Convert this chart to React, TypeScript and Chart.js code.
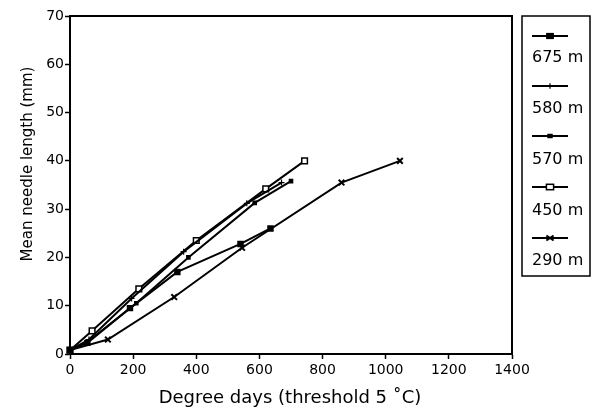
import React, { useEffect, useRef } from "react";
import { Chart, registerables } from "chart.js";

Chart.register(...registerables);

const seriesNames = ["675 m", "580 m", "570 m", "450 m", "290 m"];

const x675 = [0, 55, 190, 340, 540, 635];
const y675 = [0.8, 2.3, 9.5, 17.0, 22.8, 26.0];

const x580 = [0, 60, 195, 360, 560, 670];
const y580 = [0.8, 3.0, 11.5, 21.2, 31.2, 35.5];

const x570 = [0, 55, 210, 375, 585, 700];
const y570 = [0.8, 2.5, 10.5, 20.0, 31.3, 35.8];

const x450 = [0, 70, 218, 400, 620, 743];
const y450 = [0.8, 4.8, 13.5, 23.5, 34.2, 40.0];

const x290 = [0, 120, 330, 545, 860, 1045];
const y290 = [0.8, 3.0, 11.8, 22.0, 35.5, 40.0];

const xTicks = [0, 200, 400, 600, 800, 1000, 1200, 1400];
const yTicks = [0, 10, 20, 30, 40, 50, 60, 70];

const xTitle = "Degree days (threshold 5 \u02DAC)";
const yTitle = "Mean needle length (mm)";

const FONT = '"DejaVu Sans", Verdana, sans-serif';

type Marker = { style: string; radius: number; fill: string; width: number };
const markers: Marker[] = [
  { style: "rect", radius: 3.5, fill: "#000", width: 1.5 },
  { style: "cross", radius: 3, fill: "#000", width: 1.2 },
  { style: "rect", radius: 2.2, fill: "#000", width: 1.5 },
  { style: "rect", radius: 4, fill: "#fff", width: 1.5 },
  { style: "crossRot", radius: 4, fill: "#000", width: 2 },
];

function pts(xs: number[], ys: number[]) {
  return xs.map((x, i) => ({ x, y: ys[i] }));
}

function drawMarker(ctx: CanvasRenderingContext2D, m: Marker, x: number, y: number, k: number) {
  ctx.save();
  ctx.strokeStyle = "#000";
  ctx.fillStyle = m.fill;
  ctx.lineWidth = m.width;
  const r = m.radius * k;
  if (m.style === "rect") {
    ctx.fillRect(x - r, y - r * 0.75, 2 * r, 1.5 * r);
    ctx.strokeRect(x - r, y - r * 0.75, 2 * r, 1.5 * r);
  } else if (m.style === "cross") {
    ctx.beginPath();
    ctx.moveTo(x - r, y);
    ctx.lineTo(x + r, y);
    ctx.moveTo(x, y - r);
    ctx.lineTo(x, y + r);
    ctx.stroke();
  } else {
    ctx.beginPath();
    ctx.moveTo(x - r, y - r * 0.7);
    ctx.lineTo(x + r, y + r * 0.7);
    ctx.moveTo(x + r, y - r * 0.7);
    ctx.lineTo(x - r, y + r * 0.7);
    ctx.stroke();
  }
  ctx.restore();
}

const framePlugin = {
  id: "frameAndLegend",
  afterDraw(chart: any) {
    const ctx: CanvasRenderingContext2D = chart.ctx;
    const a = chart.chartArea;
    ctx.save();
    ctx.strokeStyle = "#000";
    ctx.lineWidth = 2;
    ctx.strokeRect(a.left, a.top, a.right - a.left, a.bottom - a.top);

    // axis titles
    ctx.fillStyle = "#000";
    ctx.textAlign = "center";
    ctx.textBaseline = "middle";
    ctx.font = `18px ${FONT}`;
    ctx.fillText(xTitle, 290, 398);
    ctx.save();
    ctx.translate(28, 164);
    ctx.rotate(-Math.PI / 2);
    ctx.font = `15px ${FONT}`;
    ctx.fillText(yTitle, 0, 0);
    ctx.restore();

    // legend box
    ctx.lineWidth = 1.5;
    ctx.strokeRect(522, 16, 68, 260);
    const lineYs = [36, 86, 136, 187, 238];
    const textYs = [58, 109, 160, 211, 261];
    ctx.font = `16px ${FONT}`;
    ctx.textAlign = "left";
    seriesNames.forEach((name, i) => {
      ctx.lineWidth = 2;
      ctx.beginPath();
      ctx.moveTo(532, lineYs[i]);
      ctx.lineTo(568, lineYs[i]);
      ctx.stroke();
      drawMarker(ctx, markers[i], 550, lineYs[i], 0.9);
      ctx.fillStyle = "#000";
      ctx.fillText(name, 532, textYs[i]);
    });
    ctx.restore();
  },
};

export default function App() {
  const ref = useRef<HTMLCanvasElement | null>(null);
  useEffect(() => {
    if (!ref.current) return;
    const all = [
      pts(x675, y675),
      pts(x580, y580),
      pts(x570, y570),
      pts(x450, y450),
      pts(x290, y290),
    ];
    const chart = new Chart(ref.current, {
      type: "scatter",
      data: {
        datasets: all.map((d, i) => ({
          label: seriesNames[i],
          data: d,
          showLine: true,
          borderColor: "#000",
          borderWidth: 2,
          backgroundColor: markers[i].fill,
          pointStyle: markers[i].style as any,
          pointRadius: markers[i].radius,
          pointBorderWidth: markers[i].width,
          pointBorderColor: "#000",
          pointBackgroundColor: markers[i].fill,
          tension: 0,
          clip: false as any,
        })),
      },
      options: {
        responsive: false,
        animation: false,
        layout: { padding: { left: 0, top: 16, right: 80, bottom: 0 } },
        plugins: { legend: { display: false }, tooltip: { enabled: false } },
        scales: {
          x: {
            type: "linear",
            min: 0,
            max: 1400,
            afterFit: (s: any) => {
              s.height = 57;
            },
            afterBuildTicks: (s: any) => {
              s.ticks = xTicks.map((v) => ({ value: v }));
            },
            ticks: {
              color: "#000",
              font: { family: FONT, size: 14 },
              padding: 3,
              maxRotation: 0,
              callback: (v: any) => String(v),
            },
            grid: { drawOnChartArea: false, color: "#000", tickLength: 5, tickWidth: 1.5 },
            border: { color: "#000", width: 2 },
          },
          y: {
            type: "linear",
            min: 0,
            max: 70,
            afterFit: (s: any) => {
              s.width = 70;
            },
            afterBuildTicks: (s: any) => {
              s.ticks = yTicks.map((v) => ({ value: v }));
            },
            ticks: {
              color: "#000",
              font: { family: FONT, size: 14 },
              padding: 1,
              callback: (v: any) => String(v),
            },
            grid: { drawOnChartArea: false, color: "#000", tickLength: 5, tickWidth: 1.5 },
            border: { color: "#000", width: 2 },
          },
        },
      },
      plugins: [framePlugin],
    });
    return () => chart.destroy();
  }, []);
  return (
    <div style={{ position: "fixed", left: 0, top: 0, width: 592, height: 411, background: "#fff" }}>
      <canvas ref={ref} width={592} height={411} style={{ width: 592, height: 411 }} />
    </div>
  );
}
